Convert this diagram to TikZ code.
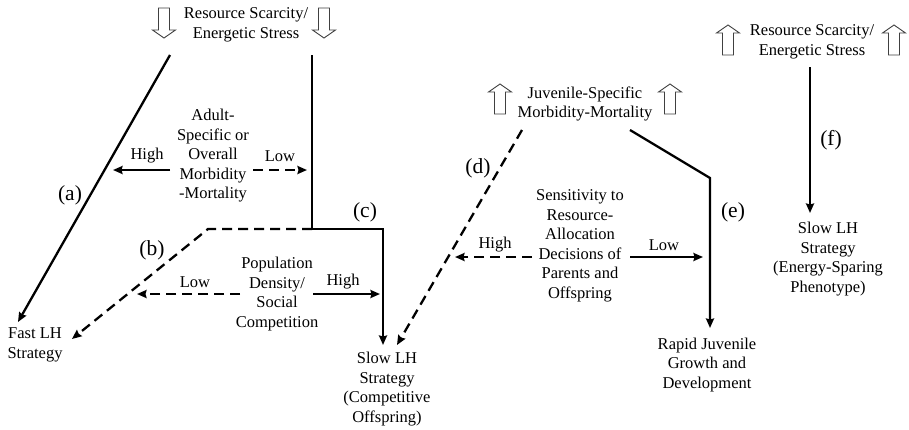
\documentclass[tikz,border=0pt]{standalone}
\usepackage{fontspec}
\setmainfont{Liberation Serif}
\usetikzlibrary{arrows.meta}
\tikzset{
  txt/.style={align=center, inner sep=0pt, font=\fontsize{16.5}{19.5}\selectfont},
  lab/.style={inner sep=0pt, font=\fontsize{21.5}{24}\selectfont},
  conn/.style={line width=2.3pt, -{Stealth[length=9.5pt,width=8pt,inset=1pt]}},
  dconn/.style={conn, dash pattern=on 10pt off 6pt},
  hollow/.style={draw=black!75, line width=0.9pt, fill=white, line join=miter},
  downarr/.pic={\draw[hollow] (-5.5,0) -- (5.5,0) -- (5.5,22) -- (11.5,22) -- (0,30) -- (-11.5,22) -- (-5.5,22) -- cycle;},
  uparr/.pic={\draw[hollow] (0,0) -- (11.5,8) -- (5.5,8) -- (5.5,30) -- (-5.5,30) -- (-5.5,8) -- (-11.5,8) -- cycle;}
}
\begin{document}
\begin{tikzpicture}[x=1pt,y=-1pt]
\useasboundingbox[fill=white] (0,0) rectangle (909,429);

% ---------- text nodes ----------
\node[txt] (rs1) at (246,25) {Resource Scarcity/\\Energetic Stress};
\node[txt] (adult) at (213,156) {Adult-\\Specific or\\Overall\\Morbidity\\-Mortality};
\node[txt] (pop) at (277,294) {Population\\Density/\\Social\\Competition};
\node[txt] (fast) at (35,345) {Fast LH\\Strategy};
\node[txt] (slow1) at (387,389) {Slow LH\\Strategy\\(Competitive\\Offspring)};
\node[txt, font=\fontsize{16.5}{18.5}\selectfont] (juv) at (585,104) {Juvenile-Specific\\Morbidity-Mortality};
\node[txt] (sens) at (580,246) {Sensitivity to\\Resource-\\Allocation\\Decisions of\\Parents and\\Offspring};
\node[txt] (rapid) at (707,365) {Rapid Juvenile\\Growth and\\Development};
\node[txt] (rs2) at (812,42) {Resource Scarcity/\\Energetic Stress};
\node[txt] (slow2) at (828,259) {Slow LH\\Strategy\\(Energy-Sparing\\Phenotype)};

% small labels
\node[txt] (hi1) at (147,156) {High};
\node[txt] (lo1) at (280,156) {Low};
\node[txt] (lo2) at (195,282) {Low};
\node[txt] (hi2) at (343,282) {High};
\node[txt] (hi3) at (495,245) {High};
\node[txt] (lo3) at (664,245) {Low};

% path labels
\node[lab] (la) at (70,195) {(a)};
\node[lab] (lb) at (152,250) {(b)};
\node[lab] (lc) at (365,212) {(c)};
\node[lab] (ld) at (478,168) {(d)};
\node[lab] (le) at (733,212) {(e)};
\node[lab] (lf) at (831,140) {(f)};

% ---------- hollow arrows ----------
\pic at (164,8) {downarr};
\pic at (324,8) {downarr};
\pic at (500,84) {uparr};
\pic at (670,84) {uparr};
\pic at (728,25) {uparr};
\pic at (894,25) {uparr};

% ---------- coordinates ----------
\coordinate (a0) at (170,55);
\coordinate (a1) at (18,322);
\coordinate (c0) at (312,55);
\coordinate (cj) at (312,229);
\coordinate (ck) at (383,229);
\coordinate (c1) at (383,345);
\coordinate (bk) at (208,229);
\coordinate (b1) at (72,339);
\coordinate (d0) at (522,130);
\coordinate (d1) at (397,345);
\coordinate (e0) at (630,130);
\coordinate (ek) at (710,178);
\coordinate (e1) at (710,328);
\coordinate (f0) at (810,67);
\coordinate (f1) at (810,213);

\coordinate (h1s) at (170,170);
\coordinate (h1e) at (113,170);
\coordinate (l1s) at (253,170);
\coordinate (l1e) at (307,170);
\coordinate (l2s) at (240,294);
\coordinate (l2e) at (137,294);
\coordinate (h2s) at (313,294);
\coordinate (h2e) at (380,294);
\coordinate (h3s) at (532,257);
\coordinate (h3e) at (455,257);
\coordinate (l3s) at (630,257);
\coordinate (l3e) at (703,257);

% ---------- connectors ----------
\draw[conn] (a0) -- (a1);
\draw[conn] (c0) -- (cj) -- (ck) -- (c1);
\draw[dconn] (cj) -- (bk) -- (b1);
\draw[dconn] (d0) -- (d1);
\draw[conn] (e0) -- (ek) -- (e1);
\draw[conn] (f0) -- (f1);

\draw[conn] (h1s) -- (h1e);
\draw[dconn] (l1s) -- (l1e);
\draw[dconn] (l2s) -- (l2e);
\draw[conn] (h2s) -- (h2e);
\draw[dconn] (h3s) -- (h3e);
\draw[conn] (l3s) -- (l3e);
\end{tikzpicture}
\end{document}
